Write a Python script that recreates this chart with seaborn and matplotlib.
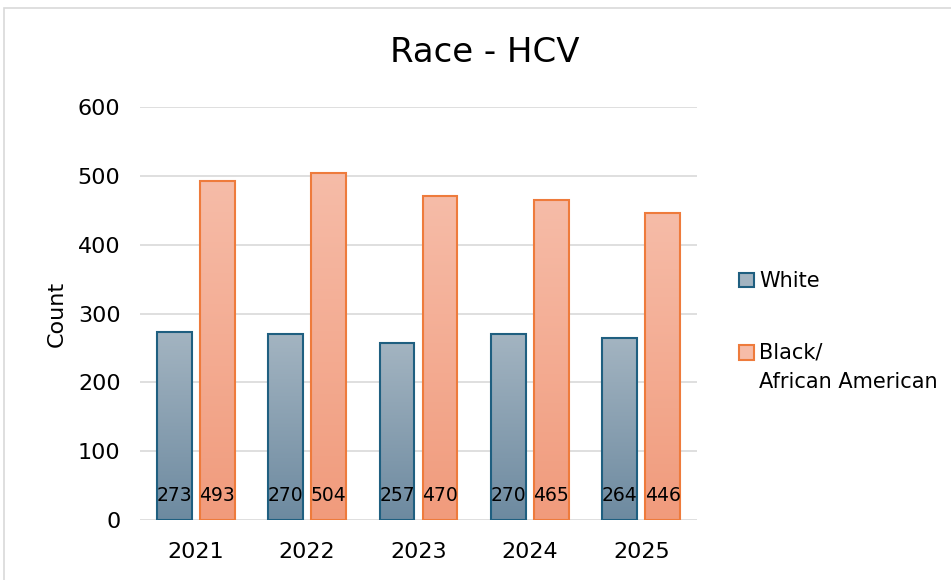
import numpy as np
import pandas as pd
import matplotlib
matplotlib.use("Agg")
import matplotlib.pyplot as plt
from matplotlib.colors import LinearSegmentedColormap
from matplotlib.patches import Rectangle
from matplotlib.legend_handler import HandlerPatch
import seaborn as sns

# data
years = ["2021", "2022", "2023", "2024", "2025"]
white = [273, 270, 257, 270, 264]
black = [493, 504, 470, 465, 446]
groups = ["White", "Black/\nAfrican American"]

df = pd.DataFrame({
    "year": years * 2,
    "count": white + black,
    "race": [groups[0]] * len(years) + [groups[1]] * len(years),
})

sns.set_theme(style="white")
plt.rcParams["font.family"] = ["DejaVu Sans"]
plt.rcParams["text.color"] = "black"
plt.rcParams["axes.labelcolor"] = "black"

edge_cols = {groups[0]: "#1f5f80", groups[1]: "#ee7b3c"}
grad_cols = {groups[0]: ("#6d8aa0", "#a3b4c1"), groups[1]: ("#f19b7c", "#f6bca8")}

fig = plt.figure(figsize=(9.51, 5.8), dpi=100)
ax = fig.add_axes([140 / 951, 1 - 520 / 580, 557 / 951, 413 / 580])

sns.barplot(data=df, x="year", y="count", hue="race", hue_order=groups,
            palette=edge_cols, width=0.77, gap=0.19, ax=ax, legend=False)

# swap flat fills for a vertical gradient, keep outline
n = len(years)
for i, bar in enumerate(ax.patches[:2 * n]):
    g = groups[i // n]
    cmap = LinearSegmentedColormap.from_list(g, grad_cols[g])
    x0, y0 = bar.get_x(), bar.get_y()
    w, h = bar.get_width(), bar.get_height()
    grad = np.linspace(0, 1, 256).reshape(-1, 1)
    ax.imshow(grad, cmap=cmap, origin="lower", aspect="auto",
              extent=[x0, x0 + w, y0, y0 + h], zorder=2)
    bar.set_facecolor("none")
    bar.set_edgecolor(edge_cols[g])
    bar.set_linewidth(1.5)
    bar.set_zorder(3)
    ax.text(x0 + w / 2, 36, str(int(round(h))), ha="center", va="center",
            fontsize=13.5, color="black", zorder=4)

ax.set_xlim(-0.5, n - 0.5)
ax.set_ylim(0, 600)
ax.set_yticks(range(0, 601, 100))
ax.yaxis.grid(True, color="#d9d9d9", linewidth=1.2)
ax.set_axisbelow(True)
for s in ax.spines.values():
    s.set_visible(False)
ax.tick_params(axis="both", length=0, labelsize=16, colors="black")
ax.tick_params(axis="y", pad=14)
ax.tick_params(axis="x", pad=16)
ax.set_xlabel("")
ax.set_ylabel("Count", fontsize=16, labelpad=8)

fig.text(485 / 951, 1 - 53 / 580, "Race - HCV", ha="center", va="center", fontsize=24.5)


# legend square sits next to the first text line (two-line label)
def square(legend, orig_handle, xdescent, ydescent, width, height, fontsize):
    shift = 11 if "\n" in orig_handle.get_label() else 0
    return Rectangle((-xdescent, -ydescent + shift), width, height)


handles = [Rectangle((0, 0), 1, 1, facecolor=grad_cols[g][1], edgecolor=edge_cols[g],
                     linewidth=1.5, label=g) for g in groups]
leg = fig.legend(handles, groups, loc="upper left", bbox_to_anchor=(729 / 951, 1 - 261 / 580),
                 frameon=False, fontsize=15, handlelength=0.7, handleheight=0.7,
                 handletextpad=0.25, labelspacing=2.45, borderpad=0,
                 handler_map={Rectangle: HandlerPatch(patch_func=square)})
for t in leg.get_texts():
    t.set_linespacing(1.6)

# outer chart frame
fig.patches.append(Rectangle((4 / 951, -0.1), 1.1, 1 - 8 / 580 + 0.1,
                             transform=fig.transFigure, fill=False,
                             edgecolor="#d9d9d9", linewidth=1.2))

fig.savefig("out.png", dpi=100)
